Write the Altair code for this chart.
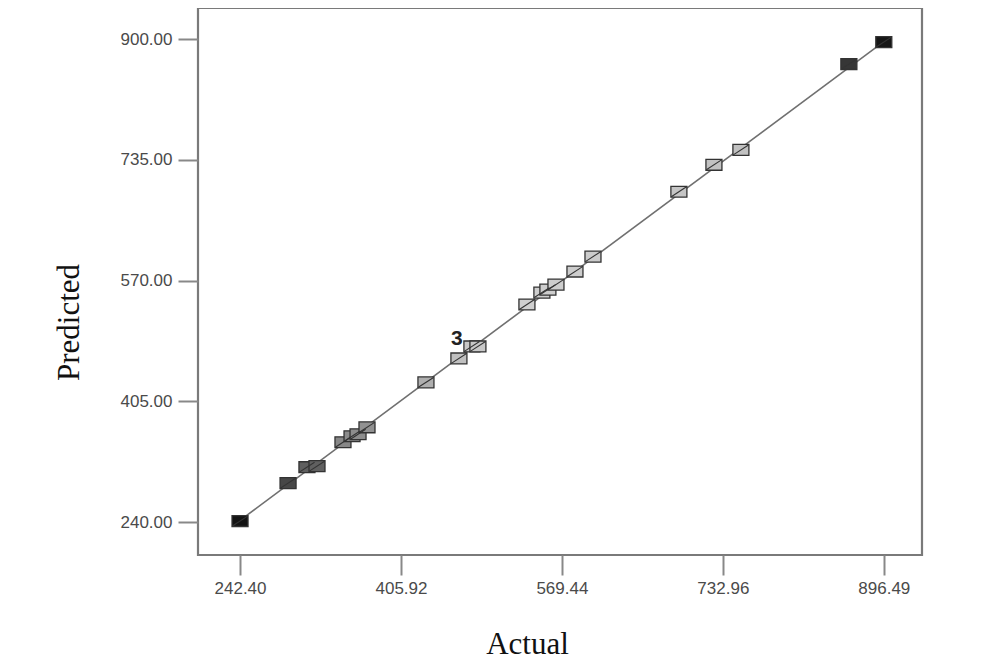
import altair as alt
import pandas as pd

actual = [242.40, 291.2, 310.4, 320.6, 347.0, 356.2, 362.3, 371.4, 431.3, 464.8,
          478.0, 484.1, 533.9, 549.1, 555.2, 563.4, 582.7, 601.0, 688.3, 723.9,
          751.3, 861.0, 896.49]
predicted = [241.4, 293.2, 315.0, 316.4, 349.1, 357.3, 360.0, 369.5, 430.9, 463.6,
             480.0, 480.0, 537.3, 553.6, 557.7, 564.5, 582.3, 602.7, 691.4, 728.2,
             748.6, 865.9, 895.9]
x_ticks = [242.40, 405.92, 569.44, 732.96, 896.49]
y_ticks = [240.0, 405.0, 570.0, 735.0, 900.0]
line_ends = [242.40, 896.49]
label_point = [{"actual": 464.8, "predicted": 463.6, "label": "3"}]

df = pd.DataFrame({"actual": actual, "predicted": predicted})
line_df = pd.DataFrame({"actual": line_ends, "predicted": line_ends})
lab_df = pd.DataFrame(label_point)

xscale = alt.Scale(domain=[199.7, 935.3], nice=False, zero=False)
yscale = alt.Scale(domain=[195.0, 942.5], nice=False, zero=False)

xaxis = alt.Axis(values=x_ticks, format=".2f", title="Actual", grid=False,
                 domain=False, tickSize=20, tickColor="#888", tickWidth=2,
                 labelFont="Liberation Sans", labelFontSize=17, labelColor="#4a4a4a",
                 labelPadding=5, titleFont="Liberation Serif", titleFontSize=31,
                 titleFontWeight="normal", titleColor="#111", titleX=329, titleY=98,
                 titleBaseline="alphabetic", titleAlign="center")
yaxis = alt.Axis(values=y_ticks, format=".2f", title="Predicted", grid=False,
                 domain=False, tickSize=20, tickColor="#888", tickWidth=2,
                 labelFont="Liberation Sans", labelFontSize=17, labelColor="#4a4a4a",
                 labelPadding=6, titleFont="Liberation Serif", titleFontSize=31,
                 titleFontWeight="normal", titleColor="#111", titleAngle=270,
                 titleX=-120, titleY=314, titleBaseline="alphabetic", titleAlign="center")

X = alt.X("actual:Q", scale=xscale, axis=xaxis)
Y = alt.Y("predicted:Q", scale=yscale, axis=yaxis)

line = alt.Chart(line_df).mark_line(color="#707070", strokeWidth=1.6).encode(x=X, y=Y)

rect_path = "M -1 -0.68 L 1 -0.68 L 1 0.68 L -1 0.68 Z"
hatch_path = "M -0.95 0.62 L 0.95 -0.62"

fill_scale = alt.Scale(domain=[240, 350, 500, 760, 900],
                       range=["#111111", "#888888", "#d2d2d2", "#c0c0c0", "#111111"])

pts = alt.Chart(df).mark_point(shape=rect_path, filled=True, size=256,
                               stroke="#333333", strokeWidth=1.3, opacity=1).encode(
    x=alt.X("actual:Q", scale=xscale),
    y=alt.Y("predicted:Q", scale=yscale),
    fill=alt.Fill("predicted:Q", scale=fill_scale, legend=None),
)
hatch = alt.Chart(df).mark_point(shape=hatch_path, filled=False, size=256,
                                 stroke="#333333", strokeWidth=1.1, opacity=1).encode(
    x=alt.X("actual:Q", scale=xscale),
    y=alt.Y("predicted:Q", scale=yscale),
)
text = alt.Chart(lab_df).mark_text(font="Liberation Sans", fontSize=21, color="#222",
                                   fontWeight="bold", dx=-2, dy=-19, baseline="middle",
                                   align="center").encode(
    x=alt.X("actual:Q", scale=xscale),
    y=alt.Y("predicted:Q", scale=yscale),
    text="label:N",
)

chart = alt.layer(line, pts, hatch, text).properties(
    width=724, height=547,
    background="white",
    autosize=alt.AutoSizeParams(type="none"),
    padding={"left": 190, "top": 0, "right": 20, "bottom": 110},
).configure_view(stroke="#7a7a7a", strokeWidth=2.2)

chart.save("out.html", embed_options={"renderer": "svg", "actions": False})
